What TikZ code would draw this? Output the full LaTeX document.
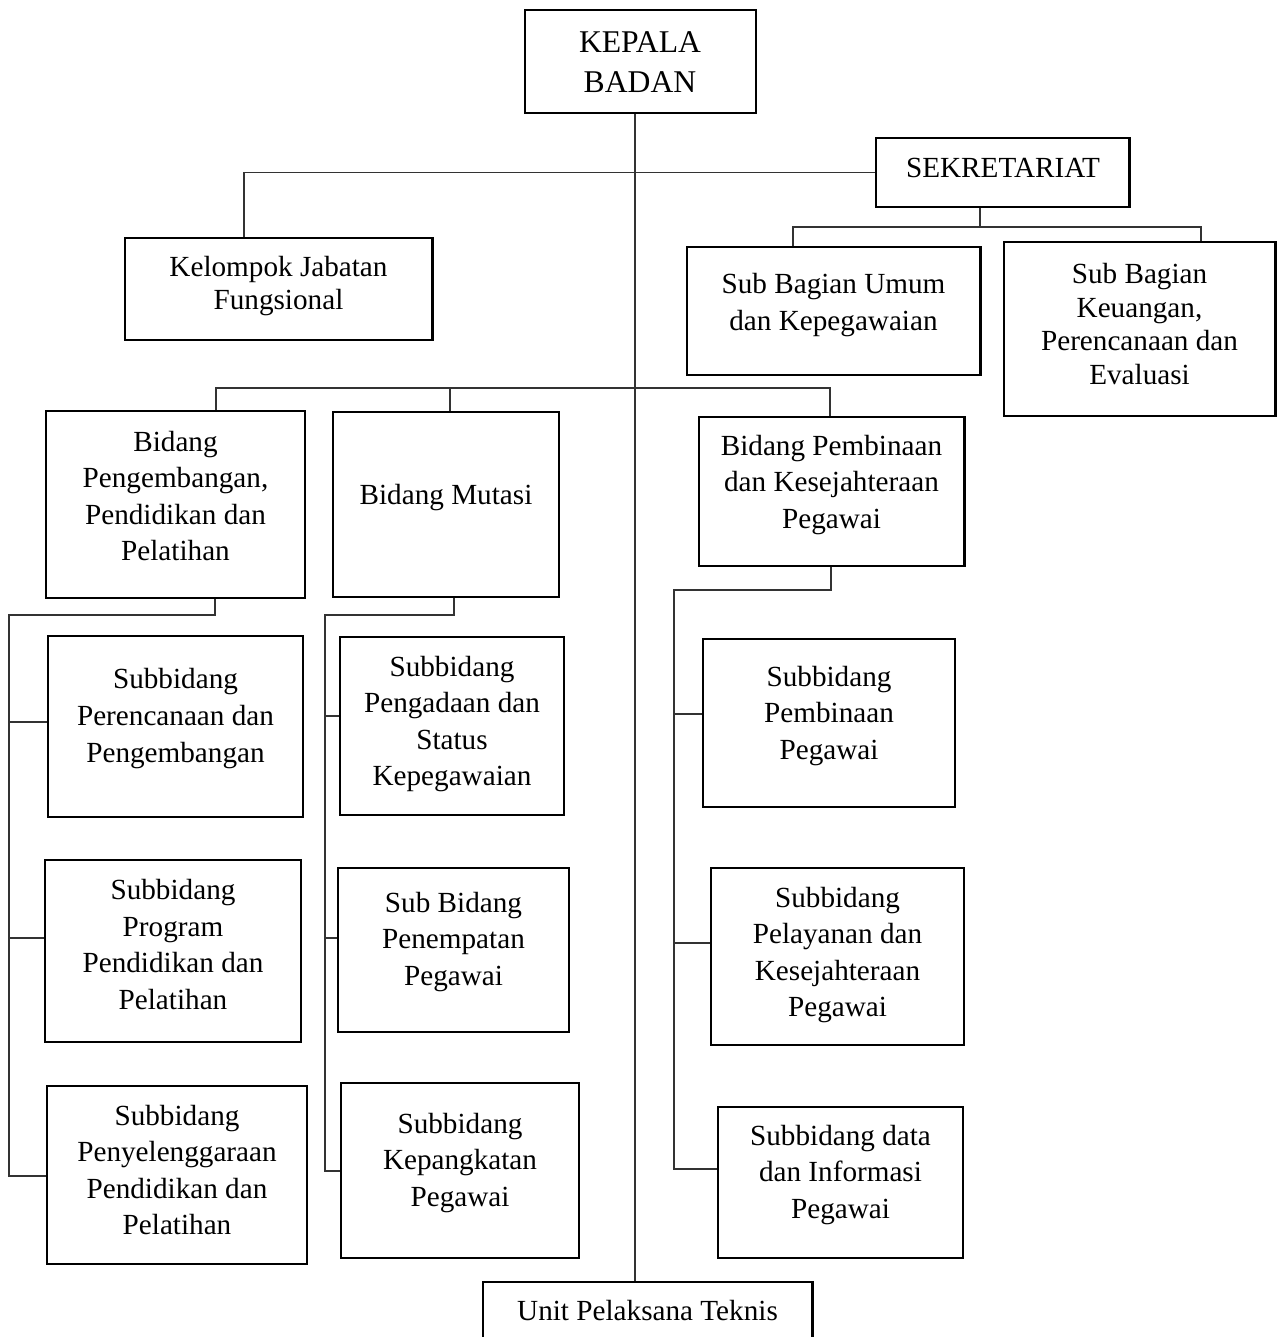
\documentclass[tikz,border=0pt]{standalone}
\usepackage{fontspec}
\setmainfont{Liberation Serif}
\usepackage{tikz}
\usetikzlibrary{positioning}

\tikzset{
  box/.style={draw, line width=0.8pt, inner sep=0pt},
  txt/.style={align=center, inner sep=0pt, font=\fontsize{8.3}{10.4}\selectfont},
  tighttxt/.style={align=center, inner sep=0pt, font=\fontsize{8.3}{9.6}\selectfont},
  bigtxt/.style={align=center, inner sep=0pt, font=\fontsize{9}{11.4}\selectfont},
  link/.style={line width=0.5pt, draw=black!80}
}

\begin{document}
\begin{tikzpicture}[x=0.01cm, y=-0.01cm]
            \useasboundingbox (0,0) rectangle (1283,1337);
            % kotak
            \node[box, minimum width=2.31cm, minimum height=1.03cm] (kepala) at (640.5,61.5) {};
            \node[box, minimum width=2.53cm, minimum height=0.69cm] (sek) at (1002.5,172.5) {};
            \node[box, minimum width=3.07cm, minimum height=1.02cm] (kjf) at (278.5,289) {};
            \node[box, minimum width=2.93cm, minimum height=1.28cm] (umum) at (833.5,311) {};
            \node[box, minimum width=2.71cm, minimum height=1.74cm] (keu) at (1139.5,329) {};
            \node[box, minimum width=2.59cm, minimum height=1.87cm] (peng) at (175.5,504.5) {};
            \node[box, minimum width=2.26cm, minimum height=1.85cm] (mutasi) at (446,504.5) {};
            \node[box, minimum width=2.65cm, minimum height=1.49cm] (pemb) at (831.5,491.5) {};
            \node[box, minimum width=2.55cm, minimum height=1.81cm] (renc) at (175.5,726.5) {};
            \node[box, minimum width=2.56cm, minimum height=1.82cm] (prog) at (173,951) {};
            \node[box, minimum width=2.60cm, minimum height=1.78cm] (selenggara) at (177,1175) {};
            \node[box, minimum width=2.24cm, minimum height=1.78cm] (adaan) at (452,726) {};
            \node[box, minimum width=2.31cm, minimum height=1.64cm] (tempat) at (453.5,950) {};
            \node[box, minimum width=2.38cm, minimum height=1.75cm] (pangkat) at (460,1170.5) {};
            \node[box, minimum width=2.52cm, minimum height=1.68cm] (binapeg) at (829,723) {};
            \node[box, minimum width=2.53cm, minimum height=1.77cm] (layan) at (837.5,956.5) {};
            \node[box, minimum width=2.45cm, minimum height=1.51cm] (data) at (840.5,1182.5) {};
            \node[box, minimum width=3.29cm, minimum height=0.98cm] (upt) at (647.5,1331) {};
            % teks
            \node[bigtxt] (kepala-t) at (640,62) {KEPALA\\BADAN};
            \node[txt] (sek-t) at (1003,168) {SEKRETARIAT};
            \node[tighttxt] (kjf-t) at (278.5,286) {Kelompok Jabatan\\Fungsional};
            \node[txt] (umum-t) at (833.5,305) {Sub Bagian Umum\\dan Kepegawaian};
            \node[tighttxt] (keu-t) at (1139.5,324) {Sub Bagian\\Keuangan,\\Perencanaan dan\\Evaluasi};
            \node[txt] (peng-t) at (175.5,496) {Bidang\\Pengembangan,\\Pendidikan dan\\Pelatihan};
            \node[txt] (mutasi-t) at (446,498) {Bidang Mutasi};
            \node[txt] (pemb-t) at (831.5,485) {Bidang Pembinaan\\dan Kesejahteraan\\Pegawai};
            \node[txt] (renc-t) at (175.5,718.5) {Subbidang\\Perencanaan dan\\Pengembangan};
            \node[txt] (prog-t) at (173,944.5) {Subbidang\\Program\\Pendidikan dan\\Pelatihan};
            \node[txt] (selenggara-t) at (177,1170) {Subbidang\\Penyelenggaraan\\Pendidikan dan\\Pelatihan};
            \node[txt] (adaan-t) at (452,724) {Subbidang\\Pengadaan dan\\Status\\Kepegawaian};
            \node[txt] (tempat-t) at (453.5,942) {Sub Bidang\\Penempatan\\Pegawai};
            \node[txt] (pangkat-t) at (460,1163) {Subbidang\\Kepangkatan\\Pegawai};
            \node[txt] (binapeg-t) at (829,716) {Subbidang\\Pembinaan\\Pegawai};
            \node[txt] (layan-t) at (837.5,955) {Subbidang\\Pelayanan dan\\Kesejahteraan\\Pegawai};
            \node[txt] (data-t) at (840.5,1175) {Subbidang data\\dan Informasi\\Pegawai};
            \node[txt] (upt-t) at (647.5,1311) {Unit Pelaksana Teknis};
            % titik bantu garis
            \coordinate (spine) at (635,0);
            \coordinate (kjfbend) at (244,172.5);
            \coordinate (sekbus) at (980,227);
            \coordinate (sb1) at (793,227);
            \coordinate (sb2) at (1201,227);
            \coordinate (bb1) at (216,388);
            \coordinate (bb2) at (450,388);
            \coordinate (bb3) at (830,388);
            \coordinate (lb) at (215,615);
            \coordinate (lx) at (9,615);
            \coordinate (mb) at (454,615);
            \coordinate (mx) at (325,615);
            \coordinate (pb) at (831,590);
            \coordinate (px) at (674,590);
            % garis
            \draw[link] (spine |- kepala.south) -- (spine |- upt.north);
            \draw[link] (sek.west) -- (kjfbend) -- (kjfbend |- kjf.north);
            \draw[link] (sekbus |- sek.south) -- (sekbus);
            \draw[link] (sb1 |- umum.north) -- (sb1) -- (sb2) -- (sb2 |- keu.north);
            \draw[link] (bb1 |- peng.north) -- (bb1) -- (bb3) -- (bb3 |- pemb.north);
            \draw[link] (bb2) -- (bb2 |- mutasi.north);
            \draw[link] (lb |- peng.south) -- (lb) -- (lx) -- (9,1176) -- (9,1176 -| selenggara.west);
            \draw[link] (9,722) -- (9,722 -| renc.west);
            \draw[link] (9,938) -- (9,938 -| prog.west);
            \draw[link] (mb |- mutasi.south) -- (mb) -- (mx) -- (325,1171) -- (325,1171 -| pangkat.west);
            \draw[link] (325,716) -- (325,716 -| adaan.west);
            \draw[link] (325,938) -- (325,938 -| tempat.west);
            \draw[link] (pb |- pemb.south) -- (pb) -- (px) -- (674,1169) -- (674,1169 -| data.west);
            \draw[link] (674,714) -- (674,714 -| binapeg.west);
            \draw[link] (674,943) -- (674,943 -| layan.west);
        \end{tikzpicture}
\end{document}
